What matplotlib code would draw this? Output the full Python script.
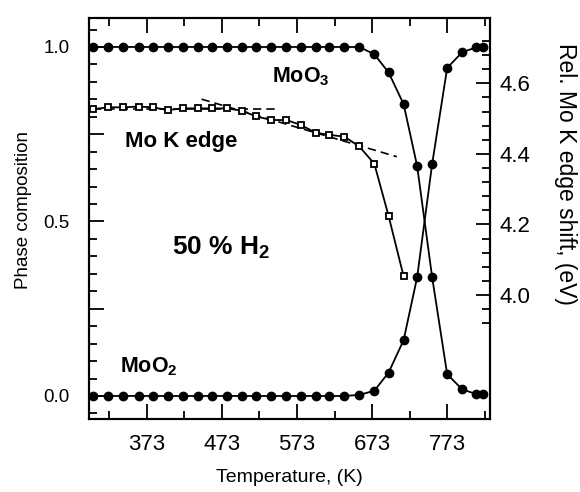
import numpy as np
from matplotlib import pyplot as plt
from matplotlib.ticker import FixedLocator, FuncFormatter

plt.rcParams['font.family'] = ['Liberation Sans', 'DejaVu Sans']
plt.rcParams['mathtext.fontset'] = 'custom'
plt.rcParams['mathtext.rm'] = 'Liberation Sans'
plt.rcParams['mathtext.bf'] = 'Liberation Sans:bold'
plt.rcParams['mathtext.default'] = 'bf'

# temperatures (K) of the measurements
temp = [302, 322, 341, 362, 381, 401, 421, 441, 460, 480, 500, 519, 539, 559,
        578, 598, 616, 636, 656, 676, 695, 715, 733, 753, 773, 793, 812, 821]

moo3 = [1.0, 1.0, 1.0, 1.0, 1.0, 1.0, 1.0, 1.0, 1.0, 1.0, 1.0, 1.0, 1.0, 1.0,
        1.0, 1.0, 1.0, 1.0, 1.0, 0.979, 0.927, 0.836, 0.659, 0.34, 0.062, 0.019,
        0.005, 0.005]
moo2 = [0.0, 0.0, 0.0, 0.0, 0.0, 0.0, 0.0, 0.0, 0.0, 0.0, 0.0, 0.0, 0.0, 0.0,
        0.0, 0.0, 0.0, 0.0, 0.003, 0.015, 0.067, 0.16, 0.34, 0.665, 0.94, 0.985,
        0.999, 1.0]

# Mo K edge shift (eV), measured up to 715 K
edge_temp = temp[:22]
edge_shift = [4.527, 4.532, 4.532, 4.534, 4.532, 4.524, 4.529, 4.529, 4.529,
              4.529, 4.522, 4.506, 4.496, 4.496, 4.482, 4.460, 4.454, 4.449,
              4.421, 4.372, 4.224, 4.053]

# linear fits (dashed)
fit1_t = [302, 544]
fit1_e = [4.527, 4.527]
fit2_t = [446, 706]
fit2_e = [4.555, 4.392]

fig = plt.figure(figsize=(5.8, 4.92), dpi=100)
ax = fig.add_axes([0.1534, 0.1484, 0.6914, 0.815])

ax.plot(temp, moo3, color='black', lw=1.3, marker='o', ms=6, zorder=3)
ax.plot(temp, moo2, color='black', lw=1.3, marker='o', ms=6, zorder=3)

ax.set_xlim(296, 830)
ax.set_ylim(-0.066, 1.083)
ax.xaxis.set_major_locator(FixedLocator([373, 473, 573, 673, 773]))
ax.xaxis.set_minor_locator(FixedLocator([323, 423, 523, 623, 723, 823]))
ax.yaxis.set_major_locator(FixedLocator([0, 0.25, 0.5, 0.75, 1.0]))
ax.yaxis.set_minor_locator(FixedLocator(np.arange(-0.05, 1.07, 0.05)))
ax.yaxis.set_major_formatter(FuncFormatter(
    lambda v, p: f'{v:.1f}' if abs(v * 2 - round(v * 2)) < 1e-6 else ''))

ax.tick_params(axis='x', which='both', direction='in', top=True, bottom=True,
               labelsize=16, pad=11)
ax.tick_params(axis='y', which='both', direction='in', left=True, right=False,
               labelsize=13.5, pad=14)
ax.tick_params(which='major', length=11, width=1.3)
ax.tick_params(which='minor', length=5.5, width=1.3)
for s in ax.spines.values():
    s.set_linewidth(1.5)

ax.set_xlabel('Temperature, (K)', fontsize=14, labelpad=10)
ax.set_ylabel('Phase composition', fontsize=13.5)
ax.yaxis.set_label_coords(-0.142, 0.521)

ax2 = ax.twinx()
ax2.plot(edge_temp, edge_shift, color='black', lw=1.3, marker='s', ms=4.5,
         mfc='white', mec='black', mew=1.3, zorder=4)
ax2.plot(fit1_t, fit1_e, color='black', lw=1.2, ls=(0, (5, 3)), zorder=3)
ax2.plot(fit2_t, fit2_e, color='black', lw=1.2, ls=(0, (5, 3)), zorder=3)
ax2.set_ylim(3.649, 4.785)
ax2.yaxis.set_major_locator(FixedLocator([4.0, 4.2, 4.4, 4.6]))
ax2.yaxis.set_minor_locator(FixedLocator(np.arange(3.92, 4.73, 0.04)))
ax2.yaxis.set_major_formatter(FuncFormatter(lambda v, p: f'{v:.1f}'))
ax2.tick_params(axis='y', which='both', direction='in', labelsize=16, pad=7)
ax2.tick_params(which='major', length=10, width=1.3)
ax2.tick_params(which='minor', length=5.5, width=1.3)
for s in ax2.spines.values():
    s.set_linewidth(1.5)
ax2.set_ylabel('Rel. Mo K edge shift, (eV)', fontsize=16.5, rotation=270)
ax2.yaxis.set_label_coords(1.217, 0.611)

ax.text(540, 0.914, r'MoO$_3$', fontsize=15.5, fontweight='bold', va='center')
ax.text(344, 0.728, 'Mo K edge', fontsize=16, fontweight='bold', va='center')
ax.text(406, 0.424, r'50 % H$_2$', fontsize=19, fontweight='bold', va='center')
ax.text(337, 0.083, r'MoO$_2$', fontsize=15.5, fontweight='bold', va='center')

fig.savefig('out.png', dpi=100)
